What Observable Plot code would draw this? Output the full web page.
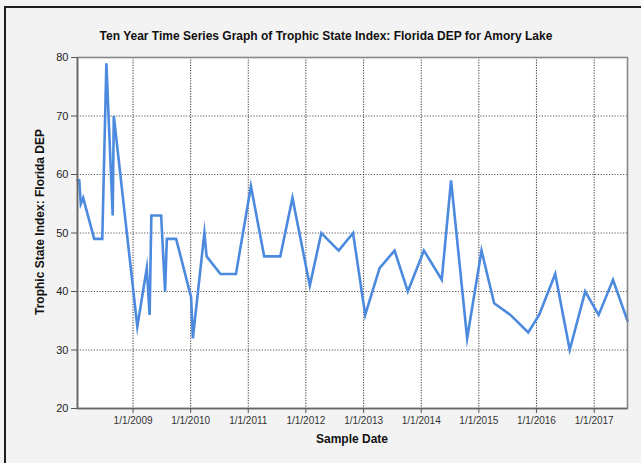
<!DOCTYPE html>
<html><head><meta charset="utf-8">
<script src="https://cdn.jsdelivr.net/npm/d3@7"></script>
<script src="https://cdn.jsdelivr.net/npm/@observablehq/plot@0.6"></script>
<style>
html,body{margin:0;padding:0;background:#f3f3f3;overflow:hidden}
#wrap{position:relative;width:641px;height:463px;font-family:"Liberation Sans",Arial,sans-serif}
#border{position:absolute;left:4px;top:6px;width:700px;height:600px;border:2px solid #1e1e1e;box-sizing:border-box}
#chart{position:absolute;left:0;top:0}
#title{position:absolute;left:0;width:652px;top:29px;text-align:center;font-weight:bold;font-size:12px;color:#111;white-space:nowrap}
#xlabel{position:absolute;left:0;width:704px;top:432px;text-align:center;font-weight:bold;font-size:12px;color:#111}
#ylabel{position:absolute;left:40px;top:222px;transform:translate(-50%,-50%) rotate(-90deg);font-weight:bold;font-size:12px;color:#111;white-space:nowrap}
</style></head>
<body>
<div id="wrap">
  <div id="border"></div>
  <div id="chart"></div>
  <div id="title">Ten Year Time Series Graph of Trophic State Index: Florida DEP for Amory Lake</div>
  <div id="xlabel">Sample Date</div>
  <div id="ylabel">Trophic State Index: Florida DEP</div>
</div>
<script>
const sampleDates = [
  "2008-01-15","2008-01-26","2008-02-05","2008-02-20","2008-04-30","2008-06-20","2008-07-16","2008-08-25","2008-09-01",
  "2009-01-28","2009-03-29","2009-04-16","2009-04-27","2009-06-28","2009-07-23","2009-08-03","2009-10-01",
  "2010-01-04","2010-01-15","2010-03-29","2010-04-12","2010-07-09","2010-10-15",
  "2011-01-18","2011-04-12","2011-07-23","2011-10-08",
  "2012-01-26","2012-04-08","2012-07-27","2012-10-26",
  "2013-01-11","2013-04-12","2013-07-16","2013-10-08",
  "2014-01-18","2014-05-11","2014-07-09","2014-10-19",
  "2015-01-18","2015-04-08","2015-07-20","2015-11-10",
  "2016-01-18","2016-04-29","2016-07-30","2016-11-05",
  "2017-01-29","2017-04-30","2017-07-31"
];
const tsiValues = [
  59,59,55,56,49,49,79,53,70,
  34,44,36,53,53,40,49,49,
  39,32,50,46,43,43,
  58,46,46,56,
  41,50,47,50,
  36,44,47,40,
  47,42,59,32,
  47,38,36,33,
  36,43,30,40,
  36,42,35
];
const yTicks = [20,30,40,50,60,70,80];
const xTickYears = [2009,2010,2011,2012,2013,2014,2015,2016,2017];

const data = sampleDates.map((d,i) => ({date: new Date(d + "T00:00:00Z"), tsi: tsiValues[i]}));
const xTicks = xTickYears.map(y => new Date(Date.UTC(y,0,1)));
const xDomain = [data[0].date, data[data.length-1].date];

const chart = Plot.plot({
  width: 641, height: 463,
  marginTop: 57, marginBottom: 55, marginLeft: 77, marginRight: 14,
  style: {background: "transparent", fontFamily: "'Liberation Sans', Arial, sans-serif"},
  x: {type: "utc", domain: xDomain, ticks: xTicks, tickFormat: d => `1/1/${d.getUTCFullYear()}`, label: null},
  y: {domain: [20, 80], ticks: yTicks, label: null},
  marks: [
    Plot.frame({fill: "white", stroke: null}),
    Plot.gridY(yTicks, {stroke: "#555", strokeOpacity: 1, strokeDasharray: "1.2,1.6", strokeWidth: 1}),
    Plot.gridX(xTicks, {stroke: "#333", strokeOpacity: 1, strokeDasharray: "1.2,1.4", strokeWidth: 1}),
    Plot.line(data, {x: "date", y: "tsi", stroke: "#4b8ade", strokeWidth: 2.6, strokeLinejoin: "miter", strokeMiterlimit: 10}),
    Plot.frame({stroke: "#888", strokeWidth: 1.6}),
    Plot.ruleY([20], {stroke: "#666", strokeWidth: 1.6}),
    Plot.ruleX([xDomain[0]], {stroke: "#666", strokeWidth: 1.6}),
    Plot.axisY(yTicks, {tickSize: 6, tickPadding: 3, fontSize: 11, stroke: "#555", color: "#222", label: null}),
    Plot.axisX(xTicks, {tickSize: 5, tickPadding: 3, fontSize: 10, stroke: "#555", color: "#333", tickFormat: d => `1/1/${d.getUTCFullYear()}`, label: null})
  ]
});
document.getElementById("chart").appendChild(chart);
</script>
</body></html>
